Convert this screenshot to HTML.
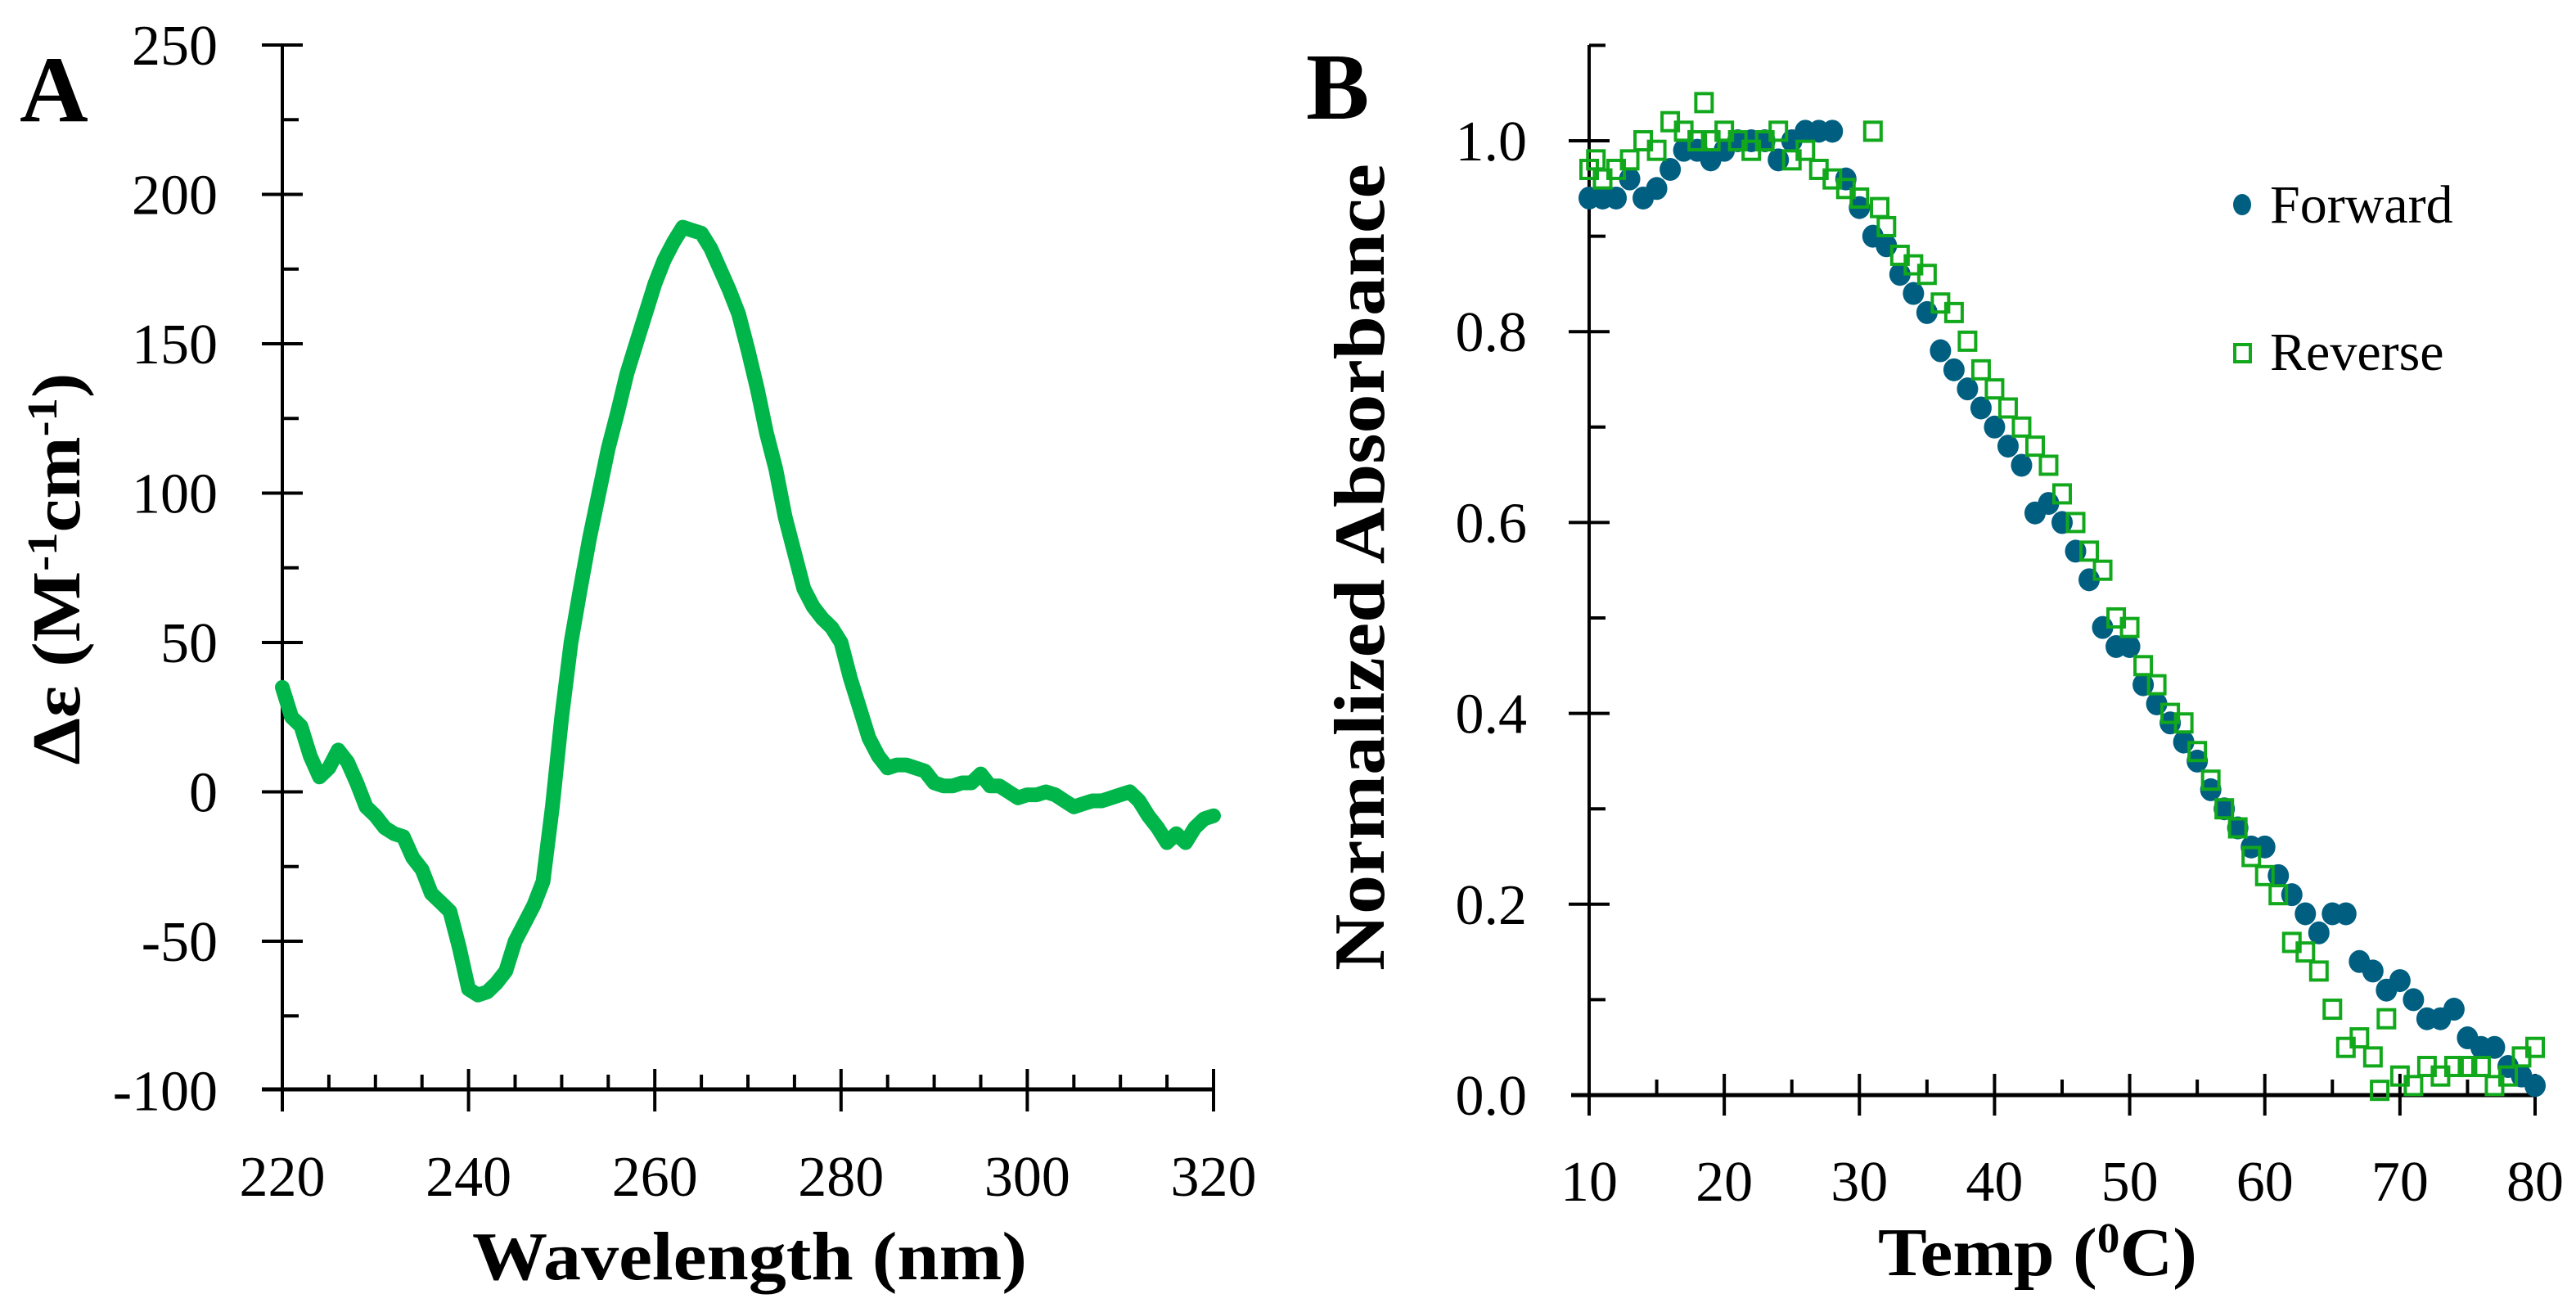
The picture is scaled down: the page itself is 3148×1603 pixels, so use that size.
<!DOCTYPE html>
<html><head><meta charset="utf-8"><style>
html,body{margin:0;padding:0;background:#fff;}
svg{display:block;}
text{font-family:"Liberation Serif",serif;fill:#000;}
</style></head><body>
<svg id="fig" width="3148" height="1603" viewBox="0 0 3148 1603" xmlns="http://www.w3.org/2000/svg">
<g id="gA"></g>
<g id="gB"></g>
</svg>
<script>
// Panel A data
const cdWavelengths = [220,221,222,223,224,225,226,227,228,229,230,231,232,233,234,235,236,237,238,239,240,241,242,243,244,245,246,247,248,249,250,251,252,253,254,255,256,257,258,259,260,261,262,263,264,265,266,267,268,269,270,271,272,273,274,275,276,277,278,279,280,281,282,283,284,285,286,287,288,289,290,291,292,293,294,295,296,297,298,299,300,301,302,303,304,305,306,307,308,309,310,311,312,313,314,315,316,317,318,319,320];
const cdValues = [35,25,22,12,5,8,14,10,3,-5,-8,-12,-14,-15,-22,-26,-34,-37,-40,-52,-66,-68,-67,-64,-60,-50,-44,-38,-30,-5,25,50,68,85,100,115,127,140,150,160,170,178,184,189,188,187,182,175,168,160,148,135,120,108,92,80,68,62,58,55,50,38,28,18,12,8,9,9,8,7,3,2,2,3,3,6,2,2,0,-2,-1,-1,0,-1,-3,-5,-4,-3,-3,-2,-1,0,-3,-8,-12,-17,-14,-17,-12,-9,-8];
const aYTicks = [250,200,150,100,50,0,-50,-100];
const aXTicks = [220,240,260,280,300,320];
// Panel B data
const fwdTemps = [10,11,12,13,14,15,16,17,18,19,20,21,22,23,24,25,26,27,28,29,30,31,32,33,34,35,36,37,38,39,40,41,42,43,44,45,46,47,48,49,50,51,52,53,54,55,56,57,58,59,60,61,62,63,64,65,66,67,68,69,70,71,72,73,74,75,76,77,78,79,80];
const fwdAbs = [0.94,0.94,0.94,0.96,0.94,0.95,0.97,0.99,0.99,0.98,0.99,1.00,1.00,1.00,0.98,1.00,1.01,1.01,1.01,0.96,0.93,0.90,0.89,0.86,0.84,0.82,0.78,0.76,0.74,0.72,0.70,0.68,0.66,0.61,0.62,0.60,0.57,0.54,0.49,0.47,0.47,0.43,0.41,0.39,0.37,0.35,0.32,0.30,0.28,0.26,0.26,0.23,0.21,0.19,0.17,0.19,0.19,0.14,0.13,0.11,0.12,0.10,0.08,0.08,0.09,0.06,0.05,0.05,0.03,0.02,0.01];
const revTemps = [10,10.5,11,12,13,14,15,16,17,18,18.5,19,20,21,22,23,24,25,26,27,28,29,30,31,31.5,32,33,34,35,36,37,38,39,40,41,42,43,44,45,46,47,48,49,50,51,52,53,54,55,56,57,58,59,60,61,62,63,64,65,66,67,68,68.5,69,70,71,72,73,74,75,76,77,78,79,80];
const revAbs = [0.97,0.98,0.96,0.97,0.98,1.00,0.99,1.02,1.01,1.00,1.04,1.00,1.01,1.00,0.99,1.00,1.01,0.98,0.99,0.97,0.96,0.95,0.94,1.01,0.93,0.91,0.88,0.87,0.86,0.83,0.82,0.79,0.76,0.74,0.72,0.70,0.68,0.66,0.63,0.60,0.57,0.55,0.50,0.49,0.45,0.43,0.40,0.39,0.36,0.33,0.30,0.28,0.25,0.23,0.21,0.16,0.15,0.13,0.09,0.05,0.06,0.04,0.005,0.08,0.02,0.01,0.03,0.02,0.03,0.03,0.03,0.01,0.02,0.04,0.05];
const bYTicks = [0.0,0.2,0.4,0.6,0.8,1.0];
const bXTicks = [10,20,30,40,50,60,70,80];

const NS="http://www.w3.org/2000/svg";
function mk(parent,tag,attrs,txt){const e=document.createElementNS(NS,tag);for(const k in attrs)e.setAttribute(k,attrs[k]);if(txt!==undefined)e.textContent=txt;parent.appendChild(e);return e;}

// ---- Panel A ----
const gA=document.getElementById('gA');
const ax=v=>345+(v-220)*(1483-345)/100;
const ay=v=>55+(250-v)*182.5/50;
let e;
e=mk(gA,'line',{x1:345,y1:55,x2:345,y2:1331,stroke:'#000','stroke-width':4});


e=mk(gA,'line',{x1:320,y1:1331,x2:1483,y2:1331,stroke:'#000','stroke-width':5});


for(let v=-75;v<=250;v+=25){const y=ay(v);const major=v%50===0;
 e=mk(gA,'line',{x1:major?320:345,y1:y,x2:major?370:365,y2:y,stroke:'#000','stroke-width':4});
 
 }
aYTicks.forEach(v=>{e=mk(gA,'text',{x:266,y:ay(v)+24,'text-anchor':'end','font-size':70},String(v));
 
 });
for(let v=220;v<=320;v+=5){const x=ax(v);const major=v%20===0;
 e=mk(gA,'line',{x1:x,y1:major?1306:1313,x2:x,y2:major?1358:1331,stroke:'#000','stroke-width':4});
 
 }
aXTicks.forEach(v=>{e=mk(gA,'text',{x:ax(v),y:1461,'text-anchor':'middle','font-size':70},String(v));
 
 });
e=mk(gA,'polyline',{points:cdWavelengths.map((w,i)=>ax(w).toFixed(1)+','+ay(cdValues[i]).toFixed(1)).join(' '),fill:'none',stroke:'#00b54a','stroke-width':18,'stroke-linejoin':'round','stroke-linecap':'round'});


e=mk(gA,'text',{x:577,y:1563,'font-size':84,'font-weight':'bold',textLength:678,lengthAdjust:'spacingAndGlyphs'},'Wavelength (nm)');


e=mk(gA,'text',{x:0,y:0,'font-size':84,'font-weight':'bold','text-anchor':'middle',transform:'translate(97,695) rotate(-90)',textLength:479,lengthAdjust:'spacingAndGlyphs'});


e.innerHTML='Δε (M<tspan dy="-28" font-size="52">-1</tspan><tspan dy="28">cm</tspan><tspan dy="-28" font-size="52">-1</tspan><tspan dy="28">)</tspan>';
e=mk(gA,'text',{x:24,y:148,'font-size':116,'font-weight':'bold'},'A');



// ---- Panel B ----
const gB=document.getElementById('gB');
const bx=v=>1942+(v-10)*(3098-1942)/70;
const by=v=>1338-v*1166;
e=mk(gB,'line',{x1:1942,y1:55,x2:1942,y2:1338,stroke:'#000','stroke-width':4});


e=mk(gB,'line',{x1:1920,y1:1338,x2:3098,y2:1338,stroke:'#000','stroke-width':5});


for(let i=1;i<=11;i++){const v=i/10;const y=by(v);const major=i%2===0;
 e=mk(gB,'line',{x1:major?1917:1942,y1:y,x2:major?1967:1962,y2:y,stroke:'#000','stroke-width':4});
 
 }
bYTicks.forEach(v=>{e=mk(gB,'text',{x:1866,y:by(v)+24,'text-anchor':'end','font-size':70},v.toFixed(1));
 
 });
for(let v=10;v<=80;v+=5){const x=bx(v);const major=v%10===0;
 e=mk(gB,'line',{x1:x,y1:major?1312:1319,x2:x,y2:major?1363:1338,stroke:'#000','stroke-width':4});
 
 }
bXTicks.forEach(v=>{e=mk(gB,'text',{x:bx(v),y:1467,'text-anchor':'middle','font-size':70},String(v));
 
 });
fwdTemps.forEach((t,i)=>{e=mk(gB,'ellipse',{cx:bx(t),cy:by(fwdAbs[i]),rx:13,ry:14,fill:'#005f80'});
 
 });
revTemps.forEach((t,i)=>{e=mk(gB,'rect',{x:bx(t)-10,y:by(revAbs[i])-11,width:20,height:22,fill:'none',stroke:'#12a81c','stroke-width':4});
 
 });
// legend
e=mk(gB,'ellipse',{cx:2740,cy:250,rx:11,ry:13,fill:'#005f80'});


e=mk(gB,'text',{x:2774,y:272,'font-size':66},'Forward');


e=mk(gB,'rect',{x:2731,y:421,width:19,height:21,fill:'none',stroke:'#12a81c','stroke-width':4});


e=mk(gB,'text',{x:2774,y:452,'font-size':66},'Reverse');


e=mk(gB,'text',{x:2295,y:1558,'font-size':84,'font-weight':'bold',textLength:390,lengthAdjust:'spacingAndGlyphs'});


e.innerHTML='Temp (<tspan dy="-28" font-size="52">0</tspan><tspan dy="28">C)</tspan>';
e=mk(gB,'text',{x:0,y:0,'font-size':88,'font-weight':'bold','text-anchor':'middle',transform:'translate(1691,693) rotate(-90)',textLength:986,lengthAdjust:'spacingAndGlyphs'},'Normalized Absorbance');


e=mk(gB,'text',{x:1596,y:145,'font-size':116,'font-weight':'bold'},'B');


</script>
</body></html>
